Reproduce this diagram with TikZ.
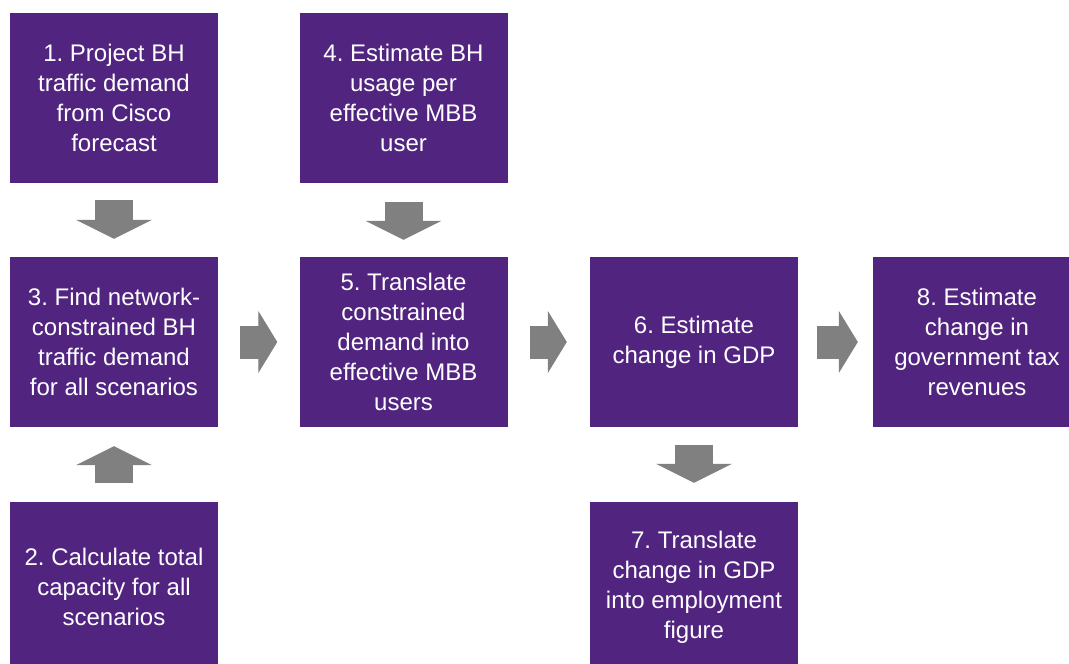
\documentclass[tikz,border=0pt]{standalone}
\usepackage{fontspec}
\setmainfont{Liberation Sans}
\usetikzlibrary{arrows.meta}
\frenchspacing

\definecolor{stagepurple}{RGB}{81,36,128}
\definecolor{flowgray}{RGB}{128,128,128}

\tikzset{
    stage/.style={fill=stagepurple, text=white, minimum width=208pt, minimum height=170pt,
        inner sep=0pt, align=center, font=\fontsize{24}{30}\selectfont},
    vflow/.style={draw=flowgray, line width=38pt,
        -{Triangle[length=19pt,width=76pt,line width=1pt,fill=flowgray]}},
    hflow/.style={draw=flowgray, line width=33pt,
        -{Triangle[length=19pt,width=62pt,line width=1pt,fill=flowgray]},
        shorten <=22pt, shorten >=22pt}
}

\begin{document}
\begin{tikzpicture}[x=1pt, y=-1pt]
    \useasboundingbox (0,0) rectangle (1069,664);

    % the eight stages
    \node[stage] (find) at (114,342) {3. Find network-\\constrained BH\\traffic demand\\for all scenarios};
    \node[stage] (project) at (114,98) {1. Project BH\\traffic demand\\from Cisco\\forecast};
    \node[stage] (capacity) at (114,587) {2. Calculate total\\capacity for all\\scenarios};
    \node[stage] (usage) at (403.5,98) {4. Estimate BH\\usage per\\effective MBB\\user};
    \node[stage] (users) at (403.5,342) {5. Translate\\constrained\\demand into\\effective MBB\\users};
    \node[stage] (gdp) at (694,342) {6. Estimate\\change in GDP};
    \node[stage] (jobs) at (694,587) {7. Translate\\change in GDP\\into employment\\figure};
    \node[stage] (tax) at (977,342) {8. Estimate\\change in\\government tax\\revenues};

    % block arrows between stages
    \draw[vflow, shorten <=17pt, shorten >=18pt] (project.south) -- (find.north);
    \draw[vflow, shorten <=19pt, shorten >=17pt] (usage.south) -- (users.north);
    \draw[vflow, shorten <=19pt, shorten >=19pt] (capacity.north) -- (find.south);
    \draw[vflow, shorten <=18pt, shorten >=19pt] (gdp.south) -- (jobs.north);
    \draw[hflow] (find.east) -- (users.west);
    \draw[hflow, shorten >=23pt] (users.east) -- (gdp.west);
    \draw[hflow, shorten <=19pt, shorten >=15pt] (gdp.east) -- (tax.west);
\end{tikzpicture}
\end{document}
